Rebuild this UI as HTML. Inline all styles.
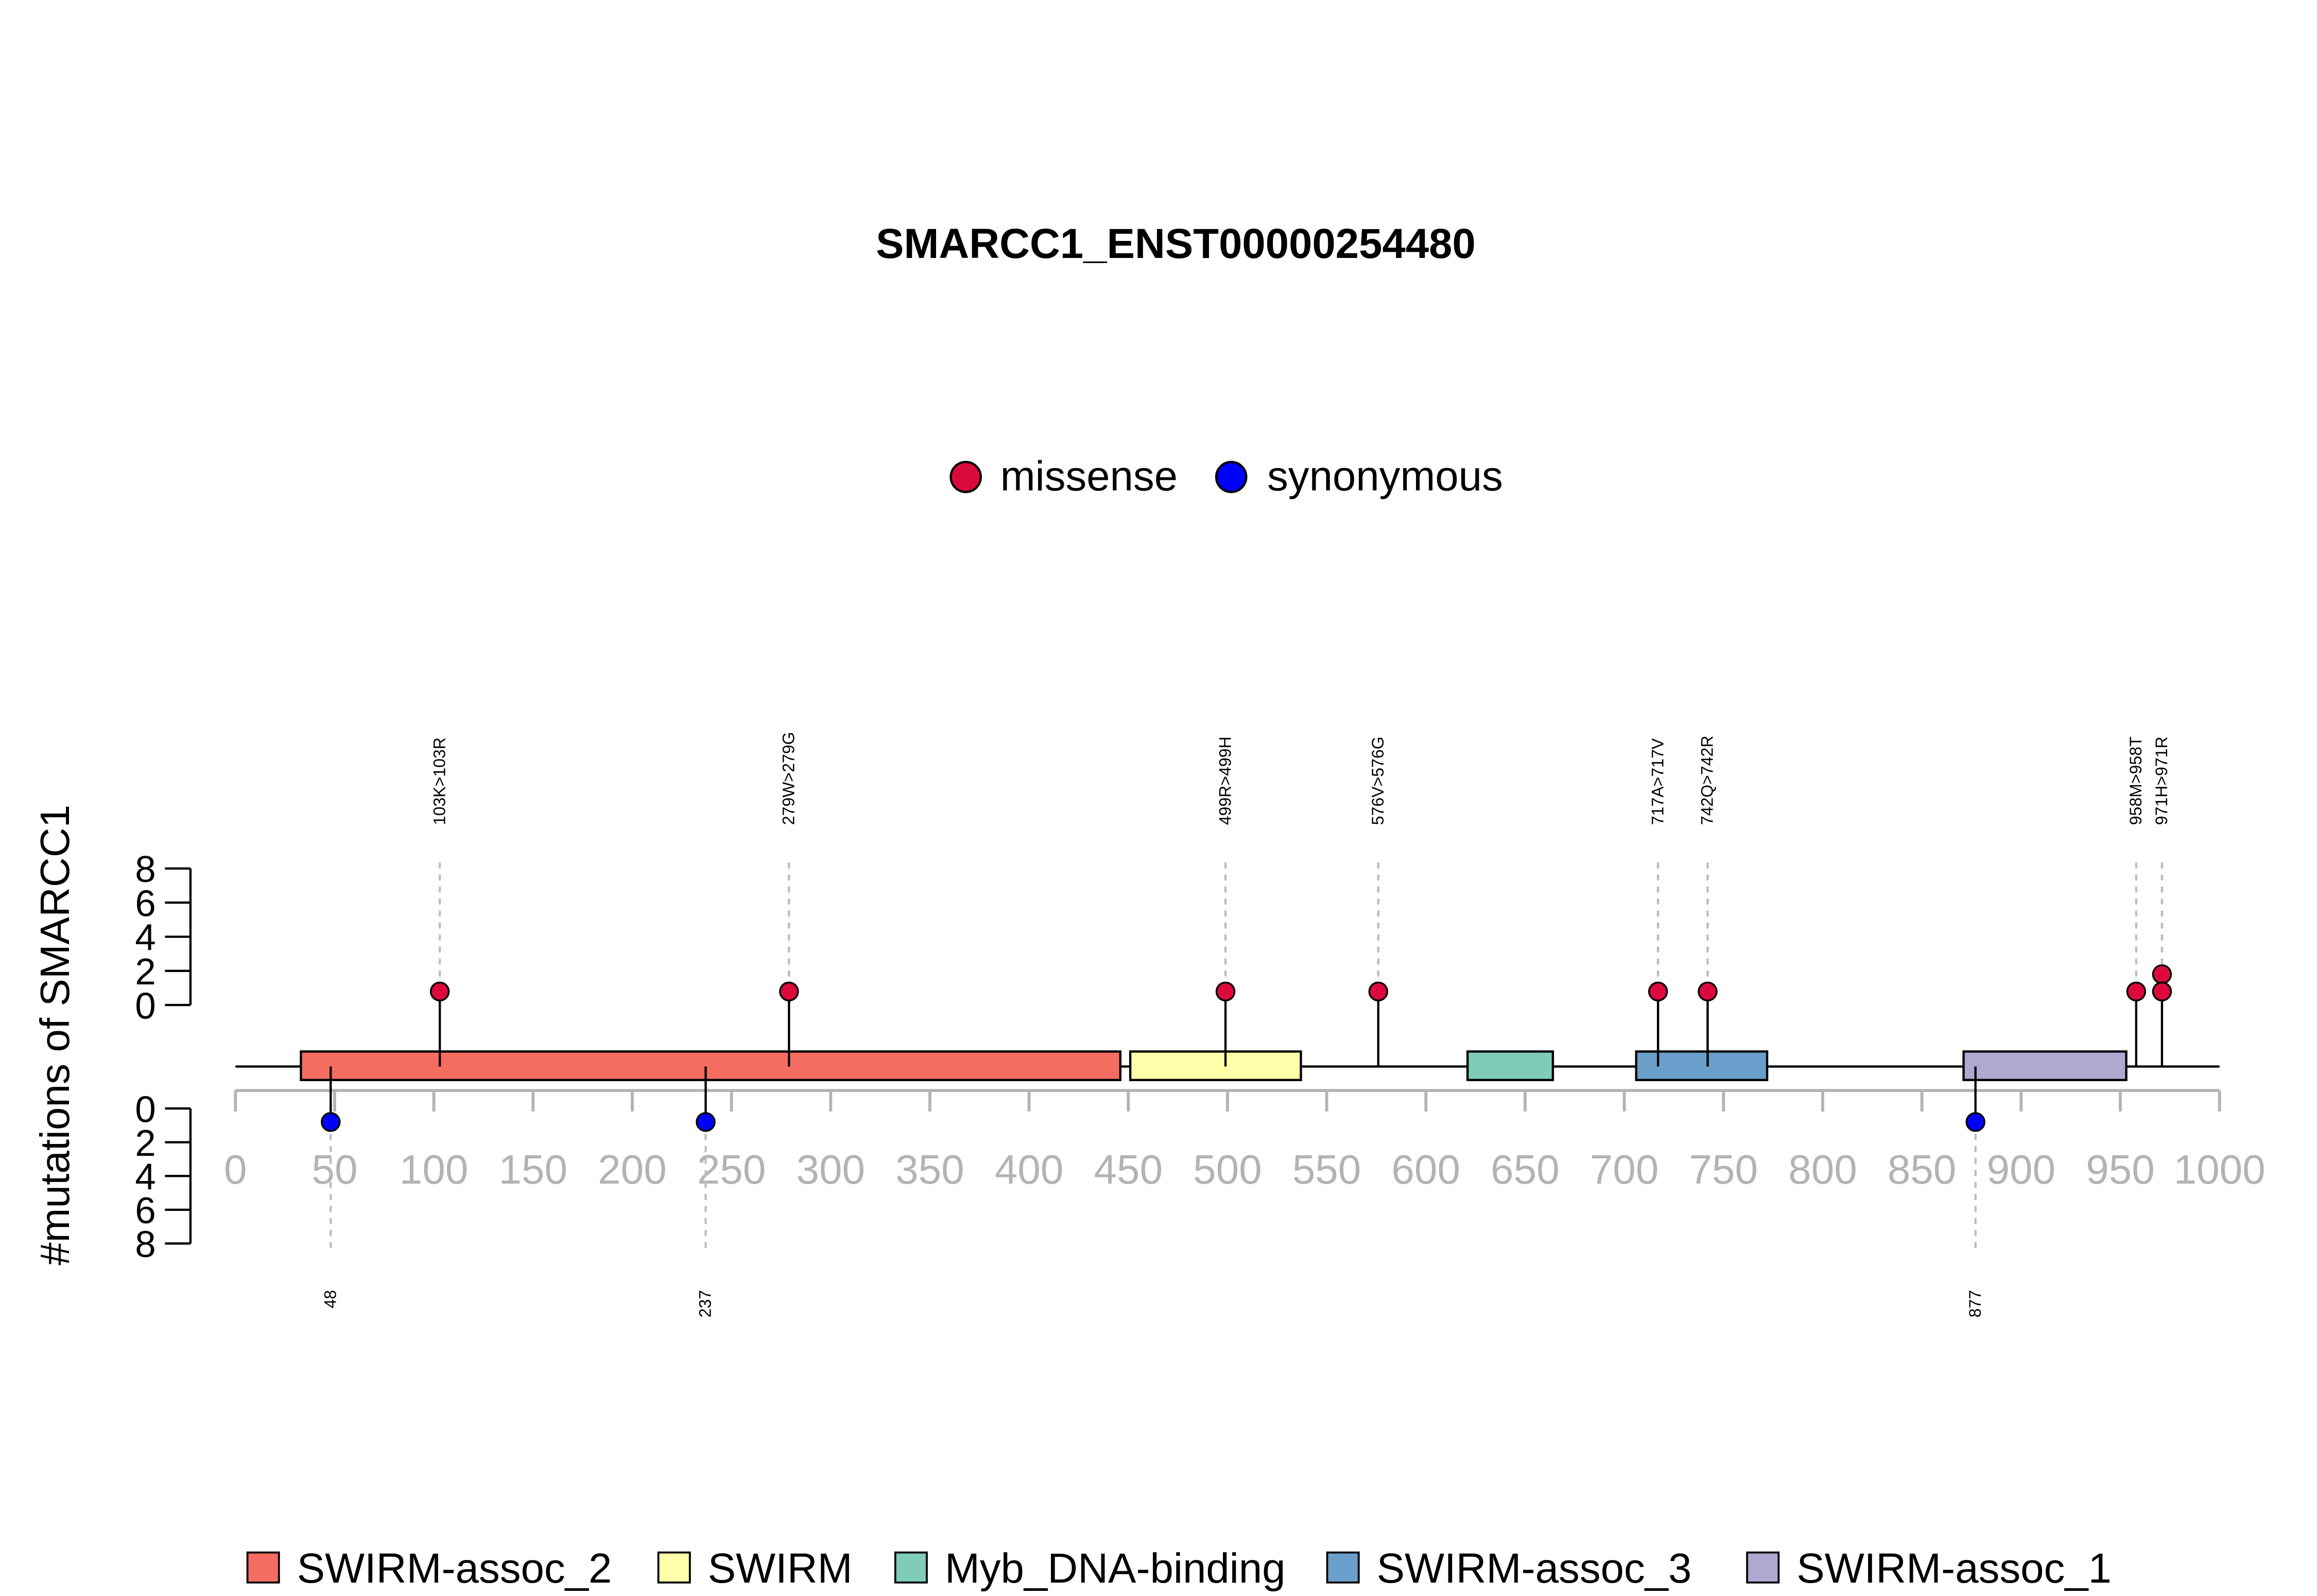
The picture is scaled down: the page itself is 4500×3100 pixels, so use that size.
<!DOCTYPE html>
<html><head><meta charset="utf-8"><style>
html,body{margin:0;padding:0;background:#fff;}
svg{display:block;}
text{font-family:"Liberation Sans",Arial,sans-serif;}
</style></head><body>
<svg id="chart" width="4500" height="3100" viewBox="0 0 1545 1064" preserveAspectRatio="none" xmlns="http://www.w3.org/2000/svg">
<rect width="1545" height="1064" fill="#fff"/>
<text x="784" y="172" text-anchor="middle" font-size="28" font-weight="bold">SMARCC1_ENST00000254480</text>
<g>
<circle cx="644" cy="318" r="10" fill="#DC0A3C" stroke="#000" stroke-width="1.5"/>
<text x="667" y="327" font-size="28">missense</text>
<circle cx="821" cy="318" r="10" fill="#0000FF" stroke="#000" stroke-width="1.5"/>
<text x="845" y="327" font-size="28">synonymous</text>
</g>
<text transform="translate(46,690) rotate(-90)" text-anchor="middle" font-size="27.5">#mutations of SMARCC1</text>
<g id="plot"></g>
</svg>
<script>
const domainNames = ["SWIRM-assoc_2","SWIRM","Myb_DNA-binding","SWIRM-assoc_3","SWIRM-assoc_1"];
const domainStarts = [33, 451, 621, 706, 871];
const domainEnds = [446, 537, 664, 772, 953];
const domainColors = ["#F46D60","#FFFFAA","#7FCDB8","#6A9FCB","#B0A8D0"];
const missensePos = [103, 279, 499, 576, 717, 742, 958, 971];
const missenseCount = [1, 1, 1, 1, 1, 1, 1, 2];
const missenseLabels = ["103K>103R","279W>279G","499R>499H","576V>576G","717A>717V","742Q>742R","958M>958T","971H>971R"];
const synPos = [48, 237, 877];
const synCount = [1, 1, 1];
const synLabels = ["48","237","877"];
const xTicks = [0,50,100,150,200,250,300,350,400,450,500,550,600,650,700,750,800,850,900,950,1000];
const yTicks = [0,2,4,6,8];

const NS="http://www.w3.org/2000/svg";
const g=document.getElementById('plot');
const X=v=>157+v*1.323;
const Yup=c=>672.5-11.5*c;
const Ydn=c=>737+11*c;
const YaxUp=c=>670-c*11.375;
const YaxDn=c=>739+c*11.25;
function el(t,a,p){const e=document.createElementNS(NS,t);for(const k in a)e.setAttribute(k,a[k]);(p||g).appendChild(e);return e;}

const ya=el('g',{});


el('line',{x1:127,x2:127,y1:YaxUp(0),y2:YaxUp(8),stroke:'#000','stroke-width':1.5},ya);
el('line',{x1:127,x2:127,y1:YaxDn(0),y2:YaxDn(8),stroke:'#000','stroke-width':1.5},ya);
yTicks.forEach(t=>{
  el('line',{x1:110,x2:127,y1:YaxUp(t),y2:YaxUp(t),stroke:'#000','stroke-width':1.5},ya);
  el('line',{x1:110,x2:127,y1:YaxDn(t),y2:YaxDn(t),stroke:'#000','stroke-width':1.5},ya);
  const a=el('text',{x:97,y:YaxUp(t)+9,'text-anchor':'middle','font-size':25},ya);a.textContent=t;
  
  
  const b=el('text',{x:97,y:YaxDn(t)+9,'text-anchor':'middle','font-size':25},ya);b.textContent=t;
  
  
});

const xa=el('g',{});


el('line',{x1:X(0),x2:X(1000),y1:727,y2:727,stroke:'#B3B3B3','stroke-width':2},xa);
xTicks.forEach(t=>{
  el('line',{x1:X(t),x2:X(t),y1:727,y2:741,stroke:'#B3B3B3','stroke-width':2},xa);
  const tx=el('text',{x:X(t),y:789,'text-anchor':'middle','font-size':27.5,fill:'#B3B3B3'},xa);tx.textContent=t;
  
  
});

const bb=el('line',{x1:X(0),x2:X(1000),y1:711,y2:711,stroke:'#000','stroke-width':1.5});



domainNames.forEach((n,i)=>{
  const r=el('rect',{x:X(domainStarts[i]),y:701,width:X(domainEnds[i])-X(domainStarts[i]),height:19,fill:domainColors[i],stroke:'#000','stroke-width':1.5});
  
  
});

missensePos.forEach((p,i)=>{
  const x=X(p);
  el('line',{x1:x,x2:x,y1:575,y2:Yup(missenseCount[i]),stroke:'#BDBDBD','stroke-width':1.5,'stroke-dasharray':'4,4'});
  el('line',{x1:x,x2:x,y1:711,y2:Yup(1),stroke:'#000','stroke-width':1.5});
  for(let c=missenseCount[i];c>=1;c--){
    const h=el('ellipse',{cx:x,cy:Yup(c),rx:6,ry:6,fill:'#DC0A3C',stroke:'#000','stroke-width':1.2});
    
    
  }
  const t=el('text',{transform:`translate(${x+3.5},550) rotate(-90)`,'font-size':11});t.textContent=missenseLabels[i];
  
  
});

synPos.forEach((p,i)=>{
  const x=X(p);
  el('line',{x1:x,x2:x,y1:Ydn(synCount[i]),y2:836,stroke:'#BDBDBD','stroke-width':1.5,'stroke-dasharray':'4,4'});
  el('line',{x1:x,x2:x,y1:711,y2:Ydn(1),stroke:'#000','stroke-width':1.5});
  for(let c=synCount[i];c>=1;c--){
    const h=el('ellipse',{cx:x,cy:Ydn(c),rx:6,ry:6,fill:'#0000FF',stroke:'#000','stroke-width':1.2});
    
    
  }
  const t=el('text',{transform:`translate(${x+3.5},860) rotate(-90)`,'font-size':11,'text-anchor':'end'});t.textContent=synLabels[i];
  
  
});

const lg=el('g',{});


const legX=[165,439,597,885,1165];
domainNames.forEach((n,i)=>{
  const r=el('rect',{x:legX[i],y:1035,width:21,height:20,fill:domainColors[i],stroke:'#000','stroke-width':1.3},lg);
  
  
  const t=el('text',{x:legX[i]+33,y:1055,'font-size':28},lg);t.textContent=n;
  
  
});
</script>
</body></html>
